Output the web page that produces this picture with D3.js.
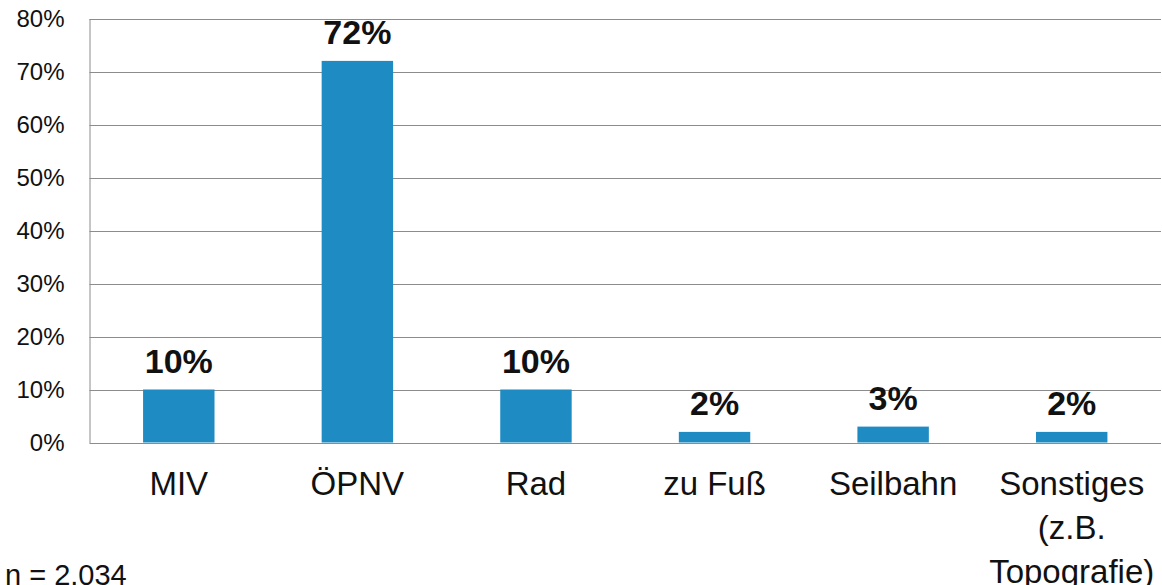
<!DOCTYPE html>
<html>
<head>
<meta charset="utf-8">
<script src="https://cdn.jsdelivr.net/npm/d3@7"></script>
<style>
  html, body { margin: 0; padding: 0; background: #fff; }
  svg { display: block; font-family: "Liberation Sans", Arial, sans-serif; }
</style>
</head>
<body>
<svg id="chart" width="1162" height="585"></svg>
<script>
// Verkehrsmittel – Anteile der Nennungen
const categories = [["MIV"], ["ÖPNV"], ["Rad"], ["zu Fuß"], ["Seilbahn"], ["Sonstiges", "(z.B.", "Topografie)"]];
const shares = [10, 72, 10, 2, 3, 2];
const yTicks = [0, 10, 20, 30, 40, 50, 60, 70, 80];
const sampleNote = "n = 2.034";

const svg = d3.select("#chart");
const plot = { left: 89.5, right: 1161, top: 18.5, bottom: 442.5 };

const x = d3.scaleBand()
  .domain(d3.range(categories.length))
  .range([plot.left, plot.right])
  .padding(0);

const y = d3.scaleLinear().domain([0, 80]).range([plot.bottom, plot.top]);

const barW = x.bandwidth() * 0.4;

// horizontal gridlines
svg.append("g")
  .selectAll("line")
  .data(yTicks)
  .join("line")
  .attr("x1", plot.left)
  .attr("x2", plot.right)
  .attr("y1", d => Math.round(y(d)) + 0.5)
  .attr("y2", d => Math.round(y(d)) + 0.5)
  .attr("stroke", "#8c8c8c")
  .attr("stroke-width", 1);

// y axis
const yAxis = svg.append("g")
  .attr("transform", `translate(${plot.left},0)`)
  .call(d3.axisLeft(y).tickValues(yTicks).tickFormat(d => d + "%").tickSize(0).tickPadding(25));
yAxis.select(".domain").attr("stroke", "#8c8c8c");
yAxis.selectAll("text")
  .attr("font-size", 24)
  .attr("font-family", "Liberation Sans, Arial, sans-serif")
  .attr("fill", "#111");

// bars
svg.append("g")
  .selectAll("rect")
  .data(shares)
  .join("rect")
  .attr("x", (d, i) => x(i) + (x.bandwidth() - barW) / 2)
  .attr("y", d => y(d))
  .attr("width", barW)
  .attr("height", d => y(0) - y(d))
  .attr("fill", "#1e8bc3");

// value labels
svg.append("g")
  .selectAll("text")
  .data(shares)
  .join("text")
  .attr("x", (d, i) => x(i) + x.bandwidth() / 2)
  .attr("y", d => y(d) - 17)
  .attr("text-anchor", "middle")
  .attr("font-size", 34)
  .attr("font-weight", "bold")
  .attr("fill", "#111")
  .text(d => d + "%");

// category labels
const cat = svg.append("g")
  .selectAll("text")
  .data(categories)
  .join("text")
  .attr("x", (d, i) => x(i) + x.bandwidth() / 2)
  .attr("y", 495)
  .attr("text-anchor", "middle")
  .attr("font-size", 33)
  .attr("fill", "#111");
cat.selectAll("tspan")
  .data(d => d)
  .join("tspan")
  .attr("x", function () { return d3.select(this.parentNode).attr("x"); })
  .attr("dy", (d, i) => i === 0 ? 0 : 44)
  .text(d => d);

// sample size
svg.append("text")
  .attr("x", 5)
  .attr("y", 585)
  .attr("font-size", 29)
  .attr("fill", "#111")
  .text(sampleNote);
</script>
</body>
</html>
